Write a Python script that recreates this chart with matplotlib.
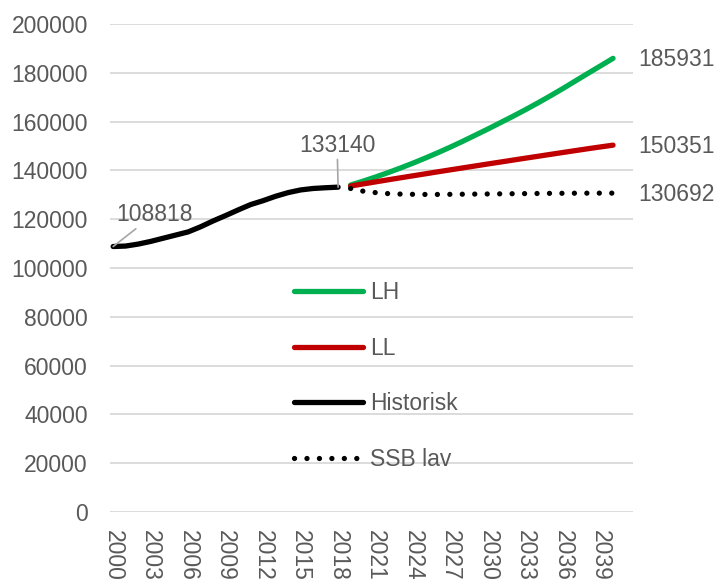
import matplotlib.pyplot as plt
import numpy as np

plt.rcParams['font.family'] = ['Liberation Sans', 'DejaVu Sans']

# historisk 2000-2018
hist_years = np.arange(2000, 2019)
hist = [108818, 109000, 109800, 110900, 112200, 113500, 114800, 116900, 119300, 121500,
        123800, 126000, 127600, 129400, 130900, 132000, 132600, 132900, 133140]

# prognoser 2019-2040
proj_years = np.arange(2019, 2041)
lh = [134000, 135600, 137300, 139100, 141000, 143000, 145100, 147300, 149600, 152000, 154500,
      157000, 159600, 162200, 164900, 167700, 170600, 173600, 176700, 179800, 182850, 185931]
ll = [133600, 134450, 135300, 136150, 136980, 137800, 138620, 139440, 140250, 141050, 141850,
      142650, 143440, 144230, 145020, 145800, 146580, 147360, 148130, 148900, 149630, 150351]
ssb_lav = [132600, 131500, 130900, 130500, 130300, 130200, 130150, 130150, 130200, 130250, 130300,
           130350, 130400, 130450, 130500, 130550, 130600, 130630, 130660, 130680, 130690, 130692]

tick_years = np.arange(2000, 2040, 3)
text_col = '#595959'
grid_col = '#D9D9D9'
fs = 16.5

fig = plt.figure(figsize=(7.21, 5.8), dpi=100)
ax = fig.add_axes([0.1526, 0.1172, 0.878 - 0.1526, 0.9586 - 0.1172])

ax.plot(proj_years, lh, color='#00B050', linewidth=3.8, solid_capstyle='round', label='LH')
ax.plot(proj_years, ll, color='#C00000', linewidth=3.8, solid_capstyle='round', label='LL')
ax.plot(hist_years, hist, color='black', linewidth=3.8, solid_capstyle='round', label='Historisk')
ax.plot(proj_years, ssb_lav, color='black', linewidth=3.8, linestyle=(0, (0.01, 2.35)),
        dash_capstyle='round', label='SSB lav')

ax.set_xlim(1999.75, 2041.6)
ax.set_ylim(0, 200000)
ax.set_yticks(np.arange(0, 200001, 20000))
ax.set_xticks(tick_years)
ax.set_xticklabels([str(y) for y in tick_years], rotation=-90, va='top', ha='center')
ax.grid(axis='y', color=grid_col, linewidth=1.3)
ax.set_axisbelow(True)
for s in ax.spines.values():
    s.set_visible(False)
ax.tick_params(length=0, labelsize=fs, labelcolor=text_col)
ax.tick_params(axis='y', pad=16)
ax.tick_params(axis='x', pad=13)

# data labels
lead = dict(arrowstyle='-', color='#A6A6A6', linewidth=1.2, shrinkA=0, shrinkB=0)
ax.annotate(str(hist[0]), xy=(hist_years[0], hist[0]), xytext=(41, 32), textcoords='offset pixels',
            ha='center', va='center', fontsize=fs, color=text_col, arrowprops=lead)
ax.annotate(str(hist[-1]), xy=(hist_years[-1], hist[-1]), xytext=(-1, 42), textcoords='offset pixels',
            ha='center', va='center', fontsize=fs, color=text_col, arrowprops=lead)
for vals in [lh, ll, ssb_lav]:
    ax.annotate(str(vals[-1]), xy=(proj_years[-1], vals[-1]), xytext=(25, -1),
                textcoords='offset pixels', ha='left', va='center', fontsize=fs, color=text_col,
                annotation_clip=False)

leg = ax.legend(loc='upper left', bbox_to_anchor=(0.313, 0.515), frameon=False, fontsize=fs,
                handlelength=3.0, handletextpad=0.3, labelspacing=1.42)
for t in leg.get_texts():
    t.set_color(text_col)

fig.savefig('out.png', dpi=100)
